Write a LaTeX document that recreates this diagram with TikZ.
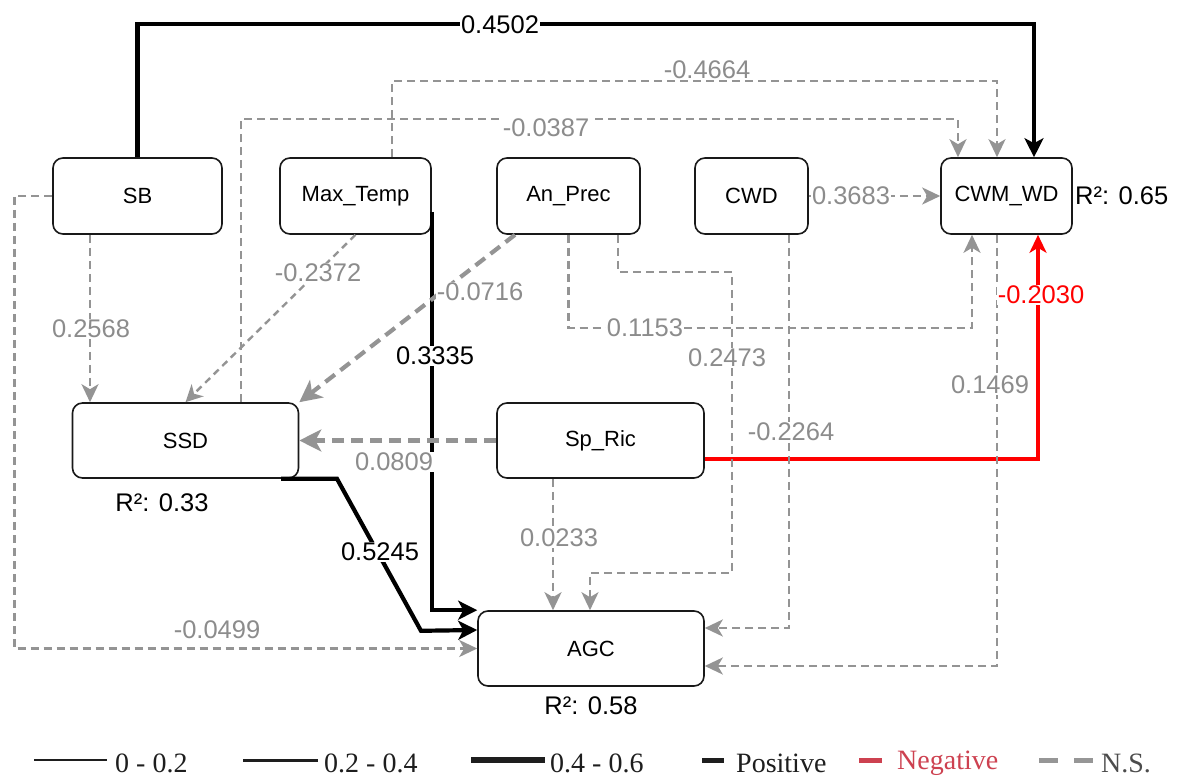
\documentclass[tikz,border=0pt]{standalone}
\usepackage{fontspec}
\setmainfont{Liberation Sans}
\newfontfamily\legfont{Liberation Serif}
\usetikzlibrary{arrows.meta}
\definecolor{nsline}{RGB}{148,148,148}
\definecolor{nstext}{RGB}{140,140,140}
\definecolor{negline}{RGB}{255,0,0}
\definecolor{legred}{RGB}{205,65,80}
\definecolor{leggray}{RGB}{150,150,150}
\definecolor{legtext}{RGB}{30,30,30}
\begin{document}
\begin{tikzpicture}[x=1pt,y=-1pt,
  box/.style={draw=black!90, line width=1.6pt, rounded corners=10pt, fill=white,
    font=\fontsize{22}{26}\selectfont, inner sep=0pt, minimum height=76pt},
  lbl/.style={fill=white, inner sep=1pt, font=\fontsize{25.5}{28}\selectfont, text=nstext},
  rsq/.style={inner sep=0pt, font=\fontsize{25.5}{28}\selectfont, text=black},
  posline/.style={draw=black, line width=4.2pt, -{Stealth[length=19pt,width=19pt,inset=5pt]}},
  posmid/.style={draw=black, line width=3.8pt, -{Stealth[length=19pt,width=19pt,inset=5pt]}},
  negline/.style={draw=negline, line width=3.5pt, -{Stealth[length=18pt,width=17pt,inset=5pt]}},
  nsl/.style={draw=nsline, line width=2.6pt, dash pattern=on 8pt off 5pt, -{Stealth[length=18pt,width=17pt,inset=5pt]}},
  nsthin/.style={draw=nsline, line width=2.4pt, dash pattern=on 7pt off 5pt, -{Stealth[length=17pt,width=17pt,inset=5pt]}},
  nsthick/.style={draw=nsline, line width=4.2pt, dash pattern=on 12pt off 7pt, -{Stealth[length=22pt,width=22pt,inset=6pt]}},
  leg/.style={font=\legfont\fontsize{28}{30}\selectfont, inner sep=0pt, text=legtext, anchor=west}
]
\useasboundingbox (0,0) rectangle (1178,778);

% nodes
\node[box, minimum width=169pt] (SB) at (137.5,196) {SB};
\node[box, minimum width=151pt] (MT) at (355.5,196) {Max\_Temp};
\node[box, minimum width=143pt] (AP) at (568.5,196) {An\_Prec};
\node[box, minimum width=113pt] (CWD) at (751.5,196) {CWD};
\node[box, minimum width=131pt] (CWM) at (1006.5,196) {CWM\_WD};
\node[box, minimum width=226pt, minimum height=75pt] (SSD) at (185.5,440.5) {SSD};
\node[box, minimum width=207pt, minimum height=75pt] (SR) at (600.5,440.5) {Sp\_Ric};
\node[box, minimum width=226pt, minimum height=75pt] (AGC) at (591,648.5) {AGC};

\node[rsq, anchor=west] (r1) at (1075,196) {R²: 0.65};
\node[rsq] (r2) at (162,503) {R²: 0.33};
\node[rsq] (r3) at (591,706) {R²: 0.58};

% connectors
\draw[posline] (SB.north) -- ++(0,-133) -| ([xshift=27.5pt]CWM.north);
\draw[nsl] ([xshift=36.5pt]MT.north) -- ++(0,-76) -| ([xshift=-9.5pt]CWM.north);
\draw[nsl] ([xshift=55.5pt]SSD.north) -- ++(0,-283) -| ([xshift=-48.5pt]CWM.north);
\draw[nsl] (CWD.east) -- (CWM.west);
\draw[nsl] (AP.south) -- ++(0,93) -| ([xshift=-34.5pt]CWM.south);
\draw[negline] ([yshift=-18.5pt]SR.east) -| ([xshift=31.5pt]CWM.south);
\draw[nsl] ([xshift=-9.5pt]CWM.south) |- ([yshift=-17.5pt]AGC.east);
\draw[nsl] ([xshift=37.5pt]CWD.south) |- ([yshift=20.5pt]AGC.east);
\draw[nsl] ([xshift=49.5pt]AP.south) -- ++(0,37) -- ++(114,0) -- ++(0,301) -| ([xshift=-1pt]AGC.north);
\draw[posmid] ([yshift=-16pt]MT.east) |- (AGC.north west);
\draw[posline] ([xshift=95.5pt]SSD.south) -- ++(56,0) -- ++(84,152) -- ([yshift=18.5pt]AGC.west);
\draw[nsl] (SB.west) -- ++(-38,0) |- (AGC.west);
\draw[nsl] ([xshift=-47.5pt]SB.south) -- ([xshift=-47.5pt]SB.south |- SSD.north);
\draw[nsthin] (MT.south) -- (SSD.north);
\draw[nsthick] ([xshift=-53.5pt]AP.south) -- (SSD.north east);
\draw[nsthick] (SR.west) -- (SSD.east);
\draw[nsl] ([xshift=-47.5pt]SR.south) -- ([xshift=-47.5pt]SR.south |- AGC.north);

% labels
\node[lbl, text=black] (l1) at (500,25) {0.4502};
\node[lbl] (l2) at (707,70) {-0.4664};
\node[lbl] (l3) at (546,128) {-0.0387};
\node[lbl] (l4) at (851,196) {0.3683};
\node[lbl] (l5) at (645,328) {0.1153};
\node[lbl, text=negline] (l6) at (1041,295) {-0.2030};
\node[lbl] (l7) at (990,385) {0.1469};
\node[lbl] (l8) at (791,432) {-0.2264};
\node[lbl] (l9) at (727,358) {0.2473};
\node[lbl, text=black] (l10) at (435,356) {0.3335};
\node[lbl, text=black] (l11) at (380,552) {0.5245};
\node[lbl] (l12) at (217,630) {-0.0499};
\node[lbl] (l13) at (91,329) {0.2568};
\node[lbl] (l14) at (318,273) {-0.2372};
\node[lbl] (l15) at (480,292) {-0.0716};
\node[lbl] (l16) at (394,462) {0.0809};
\node[lbl] (l17) at (559,538) {0.0233};

% legend
\draw[line width=1.3pt, legtext] (34,760) -- (107,760);
\node[leg] (g1) at (115,763) {0 - 0.2};
\draw[line width=3pt, legtext] (243,760) -- (318,760);
\node[leg] (g2) at (324,763) {0.2 - 0.4};
\draw[line width=6.5pt, legtext] (471,760) -- (545,760);
\node[leg] (g3) at (550,763) {0.4 - 0.6};
\draw[line width=5pt, legtext] (702,760) -- (724,760);
\node[leg] (g4) at (736,763) {Positive};
\draw[line width=5pt, legred] (859,760) -- (882,760);
\node[leg, text=legred] (g5) at (897,763) {Negative};
\draw[line width=5pt, leggray] (1039,760) -- (1058,760);
\draw[line width=5pt, leggray] (1074,760) -- (1093,760);
\node[leg, text=black!70] (g6) at (1101,763) {N.S.};
\end{tikzpicture}
\end{document}
